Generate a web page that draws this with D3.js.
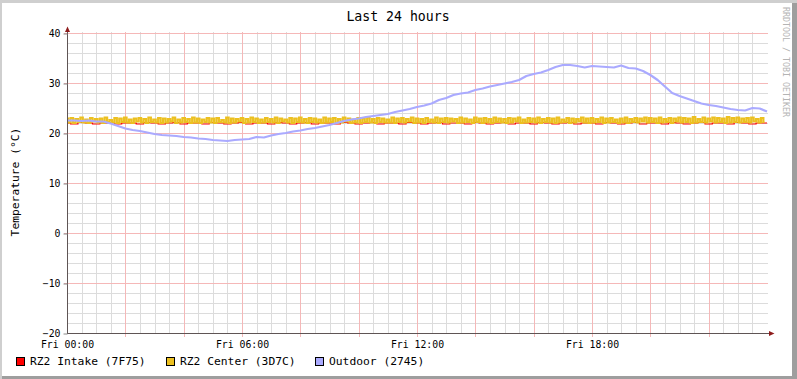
<!DOCTYPE html>
<html>
<head>
<meta charset="utf-8">
<script src="https://cdn.jsdelivr.net/npm/d3@7"></script>
<style>
  body { margin: 0; background: #fff; }
  text { font-family: "DejaVu Sans Mono", monospace; }
</style>
</head>
<body>
<svg id="chart" width="797" height="379"></svg>
<script>
// ---- data (hours since Fri 00:00) ----
var title = "Last 24 hours";
var yLabel = "Temperature (°C)";
var seriesNames = ["RZ2 Intake (7F75)", "RZ2 Center (3D7C)", "Outdoor (2745)"];
var seriesColors = ["#ff0000", "#ecc020", "#aaaaff"];
var yTicks = [-20, -10, 0, 10, 20, 30, 40];
var xTicks = [0, 6, 12, 18];
var xTickLabels = ["Fri 00:00", "Fri 06:00", "Fri 12:00", "Fri 18:00"];

// intake, 15 min samples
var intake = [
  22.0,21.8,22.1,22.0,21.8,22.0,22.1,21.8,22.0,22.0,21.8,22.1,
  22.0,21.8,22.0,22.1,21.8,22.0,22.0,21.8,22.1,22.0,21.8,22.0,
  22.1,21.8,22.0,22.0,21.8,22.1,22.0,21.8,22.0,22.1,21.8,22.0,
  22.0,21.8,22.1,22.0,21.8,22.0,22.1,21.8,22.0,22.0,21.8,22.1,
  22.0,21.8,22.0,22.1,21.8,22.0,22.0,21.8,22.1,22.0,21.8,22.0,
  22.1,21.8,22.0,22.0,21.8,22.1,22.0,21.8,22.0,22.1,21.8,22.0,
  22.0,21.8,22.1,22.0,21.8,22.0,22.1,21.8,22.0,22.0,21.8,22.1,
  22.0,21.8,22.0,22.1,21.8,22.0,22.0,21.8,22.1,22.0,21.8,22.0,
  22.0
];

// center, 5 min samples
var center = [
  22.9,22.1,23.0,22.0,22.8,22.2,23.1,22.1,22.7,22.0,23.0,22.3,
  22.8,22.1,22.9,22.0,23.1,22.2,22.6,22.1,23.0,22.0,22.9,22.2,
  23.1,22.1,22.7,22.0,22.9,22.3,23.0,22.1,22.8,22.0,23.1,22.2,
  22.7,22.1,23.0,22.0,22.9,22.1,22.8,22.3,23.1,22.0,22.7,22.1,
  23.0,22.2,22.8,22.0,23.1,22.1,22.9,22.0,22.7,22.2,23.0,22.1,
  22.9,22.0,23.0,22.2,22.6,22.1,23.1,22.0,22.9,22.1,22.8,22.3,
  23.0,22.0,22.8,22.1,23.1,22.2,22.9,22.0,22.7,22.1,23.0,22.2,
  22.8,22.1,23.1,22.0,22.9,22.3,22.7,22.1,23.0,22.0,22.9,22.2,
  23.1,22.1,22.8,22.0,23.0,22.2,22.9,22.1,22.7,22.0,23.1,22.1,
  22.9,22.2,23.0,22.0,22.8,22.1,23.1,22.3,22.9,22.0,22.7,22.1,
  23.0,22.0,22.9,22.2,23.1,22.1,22.8,22.0,23.0,22.2,22.9,22.1,
  22.7,22.1,23.1,22.0,22.9,22.2,23.0,22.1,22.8,22.3,23.1,22.0,
  22.9,22.1,22.8,22.0,23.0,22.2,22.7,22.1,23.1,22.0,22.9,22.2,
  23.0,22.1,22.9,22.3,22.8,22.0,23.1,22.1,22.9,22.2,22.7,22.0,
  23.1,22.2,22.9,22.0,23.0,22.1,22.8,22.0,23.1,22.2,22.9,22.1,
  22.8,22.0,23.0,22.1,22.9,22.3,23.1,22.0,22.7,22.1,23.0,22.2,
  22.9,22.1,23.1,22.0,22.8,22.2,23.0,22.1,22.9,22.0,23.1,22.1,
  22.7,22.2,23.0,22.0,22.9,22.1,22.8,22.3,23.1,22.1,22.9,22.0,
  23.0,22.1,22.8,22.2,23.1,22.0,22.9,22.1,23.0,22.2,22.7,22.0,
  22.9,22.1,23.1,22.0,22.8,22.2,23.0,22.1,22.9,22.3,23.1,22.1,
  23.0,22.2,22.9,22.0,23.1,22.1,22.8,22.2,23.0,22.0,22.9,22.3,
  23.1,22.1,23.0,22.2,22.9,22.0,23.2,22.1,22.8,22.2,23.1,22.1,
  22.9,22.3,23.1,22.1,23.0,22.2,22.9,22.0,23.2,22.1,23.0,22.2,
  23.1,22.1,22.9,22.2,23.0,22.1,23.1,22.3,22.8,22.1,23.0,22.2
];

// outdoor, 15 min samples
var outdoor = [
  22.5,22.5,22.4,22.5,22.3,22.3,21.9,21.4,20.9,20.6,20.4,20.1,
  19.8,19.6,19.5,19.4,19.2,19.1,18.9,18.8,18.6,18.5,18.4,18.6,
  18.7,18.8,19.2,19.1,19.5,19.8,20.0,20.3,20.5,20.8,21.0,21.3,
  21.6,22.0,22.4,22.7,22.9,23.2,23.4,23.6,23.8,24.2,24.5,24.8,
  25.2,25.5,25.9,26.6,27.0,27.6,27.9,28.1,28.6,28.9,29.3,29.6,
  29.9,30.2,30.6,31.4,31.8,32.1,32.6,33.2,33.6,33.6,33.4,33.1,
  33.4,33.3,33.2,33.1,33.5,33.0,32.9,32.4,31.6,30.6,29.3,28.0,
  27.4,26.9,26.4,25.9,25.6,25.4,25.1,24.8,24.6,24.5,25.0,24.9,
  24.3
];

var svg = d3.select("#chart");
var W = 797, H = 379;

var x = d3.scaleLinear().domain([0, 24]).range([67, 767]);
var y = d3.scaleLinear().domain([-20, 40]).range([333, 33]);

// frame
svg.append("rect").attr("x", 0).attr("y", 0).attr("width", W).attr("height", H).attr("fill", "#cfcfcf");
svg.append("rect").attr("x", 2).attr("y", 3).attr("width", W - 2).attr("height", H - 3).attr("fill", "#9e9e9e");
svg.append("rect").attr("x", 2).attr("y", 3).attr("width", W - 7).attr("height", H - 6).attr("fill", "#ffffff");

// grid
var grid = svg.append("g");
var minorY = d3.range(-18, 40, 2).filter(function(v) { return v % 10 != 0; });
grid.selectAll(".hminor").data(minorY).enter().append("line")
  .attr("x1", 67).attr("x2", 768)
  .attr("y1", function(d) { return y(d) + 0.5; })
  .attr("y2", function(d) { return y(d) + 0.5; })
  .attr("stroke", "#dcdcdc");

var minorX = d3.range(1, 48).map(function(i) { return i / 2; }).filter(function(h) { return h % 2 != 0; });
grid.selectAll(".vminor").data(minorX).enter().append("line")
  .attr("x1", function(d) { return Math.round(x(d)) + 0.5; })
  .attr("x2", function(d) { return Math.round(x(d)) + 0.5; })
  .attr("y1", 32).attr("y2", 333)
  .attr("stroke", "#dcdcdc");

var majorY = [-10, 0, 10, 20, 30, 40];
grid.selectAll(".hmajor").data(majorY).enter().append("line")
  .attr("x1", 64).attr("x2", 768)
  .attr("y1", function(d) { return y(d) + 0.5; })
  .attr("y2", function(d) { return y(d) + 0.5; })
  .attr("stroke", "#f5b8b8");

var majorX = d3.range(2, 24, 2);
grid.selectAll(".vmajor").data(majorX).enter().append("line")
  .attr("x1", function(d) { return Math.round(x(d)) + 0.5; })
  .attr("x2", function(d) { return Math.round(x(d)) + 0.5; })
  .attr("y1", 32).attr("y2", 337)
  .attr("stroke", "#f5b8b8");

// series
function series(vals, step) {
  return vals.map(function(v, i) { return [i * step, v]; });
}
var stepLine = d3.line()
  .curve(d3.curveStep)
  .x(function(d) { return x(d[0]); })
  .y(function(d) { return y(d[1]); });
var line = d3.line()
  .x(function(d) { return x(d[0]); })
  .y(function(d) { return y(d[1]); });

var plot = svg.append("g");
plot.append("path").datum(series(intake, 0.25))
  .attr("d", stepLine).attr("fill", "none")
  .attr("stroke", seriesColors[0]).attr("stroke-width", 1.2);
plot.append("path").datum(series(center, 1 / 12))
  .attr("d", stepLine).attr("fill", "none")
  .attr("stroke", seriesColors[1]).attr("stroke-width", 2.2);
plot.append("path").datum(series(outdoor, 0.25))
  .attr("d", line).attr("fill", "none")
  .attr("stroke", seriesColors[2]).attr("stroke-width", 2.2)
  .attr("stroke-linejoin", "round");

// axes
var axisCol = "#5f5555";
var arrowCol = "#8e1c1c";
svg.append("line").attr("x1", 67.5).attr("x2", 67.5).attr("y1", 333).attr("y2", 30)
  .attr("stroke", axisCol);
svg.append("line").attr("x1", 67).attr("x2", 771).attr("y1", 333.5).attr("y2", 333.5)
  .attr("stroke", axisCol);
svg.append("path").attr("d", "M65,32 L70,32 L67.5,26.5 Z").attr("fill", arrowCol);
svg.append("path").attr("d", "M769,331 L769,336 L774.5,333.5 Z").attr("fill", arrowCol);

var yAxis = d3.axisLeft(y).tickValues(yTicks).tickSize(4).tickPadding(3);
var gy = svg.append("g").attr("transform", "translate(67.5,0.5)").call(yAxis);
gy.select(".domain").remove();
gy.selectAll(".tick line").attr("stroke", "#8a8a8a");
gy.selectAll(".tick text").attr("font-size", "9.8px").attr("fill", "#000")
  .attr("font-family", "DejaVu Sans Mono");

var xAxis = d3.axisBottom(x).tickValues(xTicks).tickSize(0).tickPadding(8)
  .tickFormat(function(d, i) { return xTickLabels[i]; });
var gx = svg.append("g").attr("transform", "translate(0,333)").call(xAxis);
gx.select(".domain").remove();
gx.selectAll(".tick text").attr("font-size", "9.8px").attr("fill", "#000")
  .attr("font-family", "DejaVu Sans Mono");

// title and labels
svg.append("text").attr("x", 398).attr("y", 21).attr("text-anchor", "middle")
  .attr("font-size", "13.2px").attr("fill", "#000").text(title);

svg.append("text").attr("transform", "translate(19,182) rotate(-90)")
  .attr("text-anchor", "middle").attr("font-size", "11.3px").attr("fill", "#000")
  .text(yLabel);

svg.append("text").attr("transform", "translate(783,7) rotate(90)")
  .attr("font-size", "8.3px").attr("fill", "#b4b4b4")
  .text("RRDTOOL / TOBI OETIKER");

// legend
var legendX = [16, 166, 315];
var lg = svg.append("g").selectAll("g").data(seriesNames).enter().append("g")
  .attr("transform", function(d, i) { return "translate(" + legendX[i] + ",357)"; });
lg.append("rect").attr("x", 0.5).attr("y", 0.5).attr("width", 8).attr("height", 8)
  .attr("fill", function(d, i) { return seriesColors[i]; })
  .attr("stroke", "#000");
lg.append("text").attr("x", 14).attr("y", 8.3).attr("font-size", "11.3px")
  .attr("fill", "#000").text(function(d) { return d; });
</script>
</body>
</html>
